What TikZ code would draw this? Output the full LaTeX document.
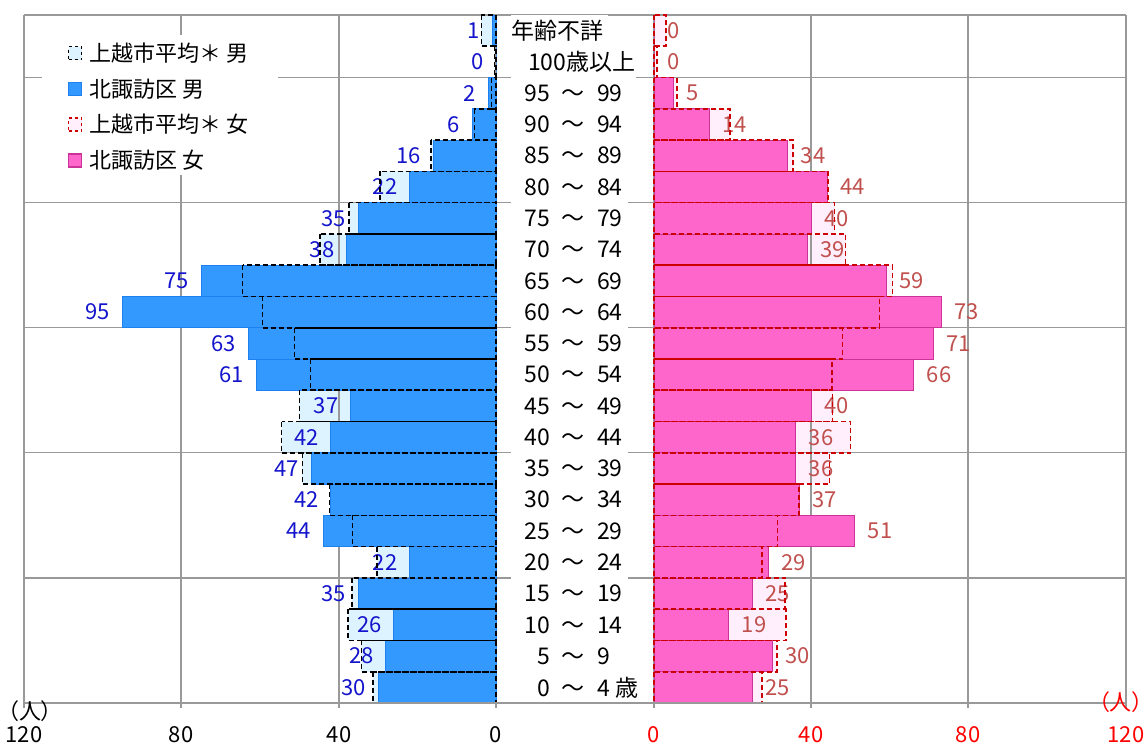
\documentclass[tikz,border=0pt]{standalone}
\usepackage{fontspec}
\setmainfont{Noto Sans CJK JP}
\newfontfamily\paltfont{Noto Sans CJK JP}[RawFeature=+palt]
\usepackage{xcolor}
\usepackage{tikz}
\usetikzlibrary{positioning}

\definecolor{kitablue}{HTML}{3399FF}
\definecolor{kitablueline}{HTML}{1F80F0}
\definecolor{joetsublue}{HTML}{DDF3FF}
\definecolor{kitapink}{HTML}{FF66CC}
\definecolor{kitapinkline}{HTML}{CC3399}
\definecolor{joetsupink}{HTML}{FFEEFB}
\definecolor{joetsured}{HTML}{CC0000}
\definecolor{gridgray}{HTML}{999999}
\definecolor{malelbl}{HTML}{1414CC}
\definecolor{femalelbl}{HTML}{C0504D}

% male / Joetsu male / female / Joetsu female, top row first
\def\popdata{1/3.7/0/3.0, 0/0.4/0/0.7, 2/1.1/5/5.8, 6/5.5/14/19.3, 16/16.6/34/35.3,
  22/29.5/44/44.3, 35/37.3/40/45.9, 38/44.7/39/48.7, 75/64.4/59/60.6, 95/59.4/73/57.3,
  63/51.2/71/47.9, 61/47.2/66/45.2, 37/50.0/40/45.4, 42/54.5/36/50.0, 47/49.2/36/44.6,
  42/42.3/37/36.9, 44/36.5/51/31.4, 22/30.3/29/27.5, 35/36.6/25/33.3, 26/37.6/19/33.5,
  28/34.2/30/31.2, 30/31.2/25/27.4}
\newcommand\rng[2]{\makebox[117pt][l]{\makebox[39pt][r]{#1}\hspace{11pt}〜\hspace{13pt}#2}}

\begin{document}
\begin{tikzpicture}[
    x=1pt, y=-1pt,
    declare function={mx(\v)=496-3.9333*\v; fx(\v)=654+3.9333*\v; rt(\k)=15+31.2727*\k;},
    grid/.style={draw=gridgray, line width=1.3pt},
    malebar/.style={fill=kitablue, draw=kitablueline, line width=0.8pt},
    femalebar/.style={fill=kitapink, draw=kitapinkline, line width=0.8pt},
    maleavg/.style={draw=black, dash pattern=on 5pt off 3pt, line width=1.6pt},
    femaleavg/.style={draw=joetsured, dash pattern=on 5pt off 3pt, line width=1.6pt},
    mlbl/.style={anchor=east, text=malelbl, inner sep=0pt, font=\fontsize{22}{24}\selectfont},
    flbl/.style={anchor=west, text=femalelbl, inner sep=0pt, font=\fontsize{22}{24}\selectfont},
    agelbl/.style={anchor=west, fill=white, inner xsep=0pt, inner ysep=0pt, minimum height=32pt, font=\fontsize{23}{26}\selectfont},
    legsym/.style={minimum size=13pt, inner sep=0pt, line width=1.3pt},
    legtxt/.style={inner sep=0pt, font=\fontsize{22}{24}\selectfont},
    axlbl/.style={inner sep=0pt, font=\fontsize{22}{24}\selectfont}
]
\useasboundingbox (0,0) rectangle (1148,744);

% Joetsu average fills
\foreach \m/\jm/\f/\jf [count=\k from 0] in \popdata {
  \fill[joetsublue] ({mx(\jm)},{rt(\k)}) rectangle (496,{rt(\k+1)});
  \fill[joetsupink] (654,{rt(\k)}) rectangle ({fx(\jf)},{rt(\k+1)});
}

% Grid
\foreach \x in {24,181,339,496,654,811,968,1126}
  \draw[grid] (\x,15) -- (\x,708);
\foreach \k in {0,2,6,10,14,18}
  \draw[grid] (24,{rt(\k)}) -- (1126,{rt(\k)});

% Kita-Suwa bars
\foreach \m/\jm/\f/\jf [count=\k from 0] in \popdata {
  \draw[malebar] ({mx(\m)},{rt(\k)}) rectangle (496,{rt(\k+1)});
  \draw[femalebar] (654,{rt(\k)}) rectangle ({fx(\f)},{rt(\k+1)});
}

% Value labels
\foreach \m/\jm/\f/\jf [count=\k from 0] in \popdata {
  \node[mlbl] (m\k) at ({mx(\m)-12},{rt(\k+0.5)}) {\m};
  \node[flbl] (f\k) at ({fx(\f)+13},{rt(\k+0.5)}) {\f};
}

% Joetsu average outlines
\foreach \m/\jm/\f/\jf [count=\k from 0] in \popdata {
  \draw[maleavg] ({mx(\jm)},{rt(\k)}) rectangle (496,{rt(\k+1)});
  \draw[femaleavg] (654,{rt(\k)}) rectangle ({fx(\jf)},{rt(\k+1)});
}

% Age labels
\node[agelbl] (a0) at (511,{rt(0.5)}) {\makebox[97pt][l]{年齢不詳}};
\node[agelbl] (a1) at (511,{rt(1.5)}) {\makebox[125pt][l]{\hspace*{17pt}100歳以上}};
\foreach \lo/\hi [count=\k from 2] in {95/99,90/94,85/89,80/84,75/79,70/74,65/69,60/64,55/59,
    50/54,45/49,40/44,35/39,30/34,25/29,20/24,15/19,10/14,5/9}
  \node[agelbl] (a\k) at (511,{rt(\k+0.5)}) {\rng{\lo}{\hi}};
\node[agelbl] (a21) at (511,{rt(21.5)}) {\rng{0}{4 歳}};

\draw[grid] (24,703) -- (1126,703);

% Axes
\foreach \v/\x in {120/24,80/181,40/339,0/496}
  \node[axlbl] (lx\v) at (\x,735) {\v};
\foreach \v/\x in {0/654,40/811,80/968,120/1126}
  \node[axlbl, text=red] (rx\v) at (\x,735) {\v};
\node[axlbl, anchor=west] (lunit) at (8,711) {\paltfont （人）};
\node[axlbl, anchor=east, text=red] (runit) at (1143,702) {\paltfont （人）};

% Legend
\fill[white] (42,35) rectangle (278,175);
\node[legsym, fill=joetsublue, draw=black, dash pattern=on 3pt off 3pt] (lg1) at (75,53) {};
\node[legsym, fill=kitablue, draw=kitablueline, below=21.5pt of lg1] (lg2) {};
\node[legsym, fill=joetsupink, draw=joetsured, dash pattern=on 3pt off 3pt, below=21.5pt of lg2] (lg3) {};
\node[legsym, fill=kitapink, draw=kitapinkline, below=21.5pt of lg3] (lg4) {};
\node[legtxt, right=7pt of lg1] (lg1t) {上越市平均＊ 男};
\node[legtxt, right=7pt of lg2] (lg2t) {北諏訪区 男};
\node[legtxt, right=7pt of lg3] (lg3t) {上越市平均＊ 女};
\node[legtxt, right=7pt of lg4] (lg4t) {北諏訪区 女};

\end{tikzpicture}
\end{document}
